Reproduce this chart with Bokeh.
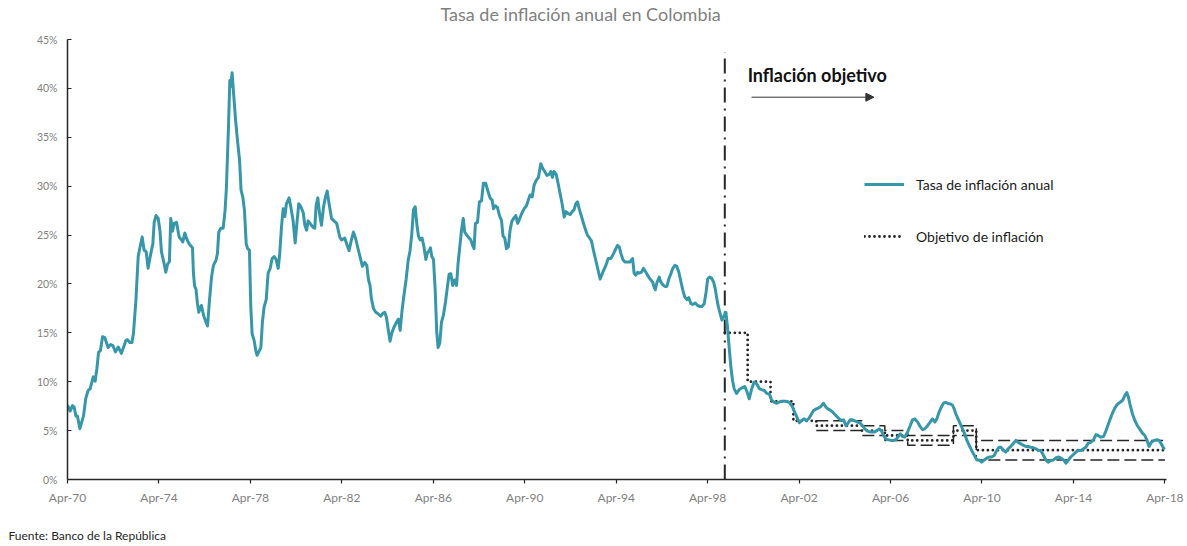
from bokeh.plotting import figure
from bokeh.models import (Range1d, FixedTicker, PrintfTickFormatter, Legend, LegendItem,
                          Arrow, NormalHead, Label, Title)
from bokeh.embed import file_html
from bokeh.resources import INLINE

# ---------------- data ----------------
# months elapsed since April 1970, and annual inflation (%)
months = [
    0, 1.4, 2.6, 3.5, 4.4, 5.2, 6.5, 8.4, 9.6, 10.8, 11.9, 13.5, 14.5, 15.4, 16.3, 17.3, 18.4, 19.6,
    21.3, 22.7, 23.8, 25.2, 26.6, 28.3, 30.6, 31.5, 32.7, 33.8, 34.6, 35.9, 37.1, 38.1, 39.2, 40.2,
    41.3, 42.3, 43.7, 44.8, 45.5, 46.5, 47.6, 48.5, 49.3, 50.7, 51.6, 52.5, 53.5, 54.2, 55.1, 56.0,
    57.2, 58.6, 59.8, 60.5, 61.6, 62.6, 63.8, 65.6, 66.1, 66.7, 67.5, 68.2, 68.9, 69.6, 70.3, 71.4,
    72.3, 73.5, 74.5, 75.6, 76.6, 77.9, 78.7, 79.4, 80.5, 81.7, 82.7, 83.4, 84.5, 85.2, 85.7, 86.4,
    87.1, 88.2, 89.2, 90.3, 91.1, 92.0, 92.9, 93.8, 94.6, 95.5, 96.2, 96.9, 98.0, 98.8, 99.5, 100.4,
    101.5, 102.3, 103.2, 104.3, 105.3, 106.4, 107.4, 108.5, 109.5, 110.6, 111.4, 112.3, 113.2, 114.1,
    114.9, 116.3, 117.2, 118.4, 119.5, 120.4, 121.4, 122.5, 123.7, 124.6, 125.5, 126.3, 127.7, 128.8,
    129.8, 130.5, 131.4, 132.3, 133.3, 134.4, 135.4, 136.3, 137.3, 138.6,
    139.6, 141.3, 142.9, 143.8, 145.5, 146.6, 147.8, 149.0, 150.1, 151.3, 152.5, 153.6, 154.8, 156.0,
    157.1, 158.0, 158.8, 159.5, 160.6, 161.8, 163.0, 164.4, 165.3, 166.5, 167.4, 168.3, 169.3, 170.2,
    171.4, 172.7, 173.7, 174.6, 175.6, 176.7, 177.7, 178.8, 179.8, 180.7, 181.6, 182.5, 183.3, 184.2,
    185.1, 186.1, 187.0, 188.1, 188.9, 189.8, 190.5, 191.2, 192.1, 193.0, 193.8, 194.5, 195.4, 196.3,
    197.3, 198.4, 199.4, 200.3, 201.2, 202.2, 203.1, 204.2, 205.0, 205.9, 206.8, 207.7, 208.5, 209.6,
    210.8, 211.7, 212.6, 213.4, 214.1, 215.2, 216.2, 217.3, 218.3, 219.5, 220.8, 221.8, 222.9, 223.6,
    224.6, 225.7, 226.7, 227.8, 228.6, 229.5, 230.4, 231.4, 232.3, 233.2, 234.2, 235.3, 236.3, 237.4,
    238.4, 239.7, 240.9, 241.9, 242.8, 243.9, 244.9, 246.0, 247.2, 248.4, 249.5, 250.5, 251.6, 252.8,
    253.7, 254.5, 255.4, 256.5, 257.5, 258.6, 259.6, 260.7, 261.7, 262.8, 263.8, 264.9, 265.9, 266.8,
    267.7, 268.7, 269.8, 270.8, 271.9, 272.9, 274.0, 275.0, 276.1, 277.3, 278.5, 279.6,
    281.4, 282.6, 283.8, 285.2, 286.6, 287.8, 288.7, 289.6, 290.5, 291.5, 292.5, 293.9, 295.3, 296.6,
    297.4, 298.3, 299.2, 300.1, 301.3, 302.3, 303.6, 304.4, 305.8, 307.1, 307.9, 308.5, 309.3, 310.6,
    311.4, 312.5, 313.5, 314.6, 315.6, 316.7, 317.7, 318.8, 319.8, 320.9, 322.0, 323.0, 324.0, 325.1,
    326.1, 327.2, 328.2, 329.5, 330.7, 331.7, 333.0, 334.2, 335.2, 336.0, 337.0, 338.0, 339.1, 340.0,
    340.8, 341.7, 342.6, 343.5,
    344.3, 345.6, 346.4, 347.3, 348.2, 349.1, 349.9, 351.2, 352.6, 354.3, 355.5, 356.6, 357.8, 359.0,
    360.4, 361.7, 363.1, 364.3, 365.7, 367.1, 368.5, 369.5, 370.9, 372.3, 374.4, 377.1, 378.8, 380.6,
    381.8, 382.8, 384.1, 385.3, 386.7, 387.9, 389.3, 390.5, 391.6, 392.8, 394.0, 395.4, 396.8, 398.1,
    399.3, 400.3, 401.6, 402.8, 403.8, 405.1, 406.3, 407.3, 408.6, 409.8, 410.8, 412.1, 413.3, 414.7,
    416.1, 417.3, 418.5, 419.9, 421.7, 423.4, 424.8, 426.0, 427.3, 428.3, 429.5, 430.8, 432.2, 433.6,
    434.8, 436.0, 437.1, 438.3, 439.5, 440.9, 442.3, 443.5, 444.8, 446.2, 447.6, 448.8, 450.0, 451.4,
    452.8, 454.0, 455.3, 456.3, 457.5, 458.8, 459.8, 461.0, 462.3, 463.3, 464.5, 465.4, 466.3, 467.2,
    468.6, 469.8, 471.0, 472.1, 473.3, 474.5, 475.9, 477.3, 478.5, 479.8, 481.2, 482.6, 483.8, 485.0,
    486.4, 487.8, 489.0, 489.9, 491.3, 492.5, 493.7, 495.1, 496.5, 497.8, 499.0, 500.4, 501.8, 503.0,
    504.2, 505.6, 507.0, 508.3, 509.5, 510.9, 512.3, 513.5, 514.7, 516.1, 517.5, 518.8, 520.0, 521.4,
    522.8, 524.0, 525.2, 526.6, 528.0, 529.3, 530.5, 531.9, 533.3, 534.5, 535.7, 537.1, 538.5, 539.8,
    541.0, 542.4, 543.8, 545.0, 546.2, 547.3, 548.5, 549.7, 551.1, 552.5, 553.8, 555.0, 556.0, 556.9,
    557.8, 559.0, 560.2, 561.6, 563.0, 564.2, 565.5, 566.5, 567.7, 568.9, 570.4, 571.8, 573.0, 574.2,
    575.3, 576.0,
]
inflation = [
    7.6, 7.0, 7.56, 7.4, 6.5, 6.5, 5.2, 6.5, 8.3, 9.1, 9.3, 10.5, 10.05, 11.3, 13.0, 13.2, 14.6, 14.5,
    13.5, 13.8, 13.7, 13.05, 13.55, 12.9, 14.2, 14.3, 14.0, 14.0, 14.9, 18.3, 22.8, 23.8, 24.8, 23.45,
    23.3, 21.6, 23.1, 24.1, 26.3, 27.0, 26.7, 25.5, 23.3, 22.1, 21.2, 22.0, 22.3, 26.7, 25.4, 26.2,
    26.3, 24.8, 24.5, 24.3, 25.2, 24.6, 24.1, 23.7, 21.1, 19.8, 19.4, 18.0, 17.1, 17.5, 17.8, 16.8,
    16.3, 15.7, 18.3, 20.7, 21.9, 22.4, 23.1, 25.3, 25.7, 25.7, 27.5, 29.8, 36.1, 40.8, 40.2, 41.6,
    39.7, 36.8, 34.7, 32.7, 29.6, 28.9, 27.5, 24.1, 23.6, 23.45, 17.65, 14.9, 14.2, 13.2, 12.7, 13.05,
    13.5, 16.1, 17.65, 18.4, 21.1, 21.6, 22.6, 22.8, 22.5, 21.6, 23.1, 25.8, 27.7, 26.9,
    28.2, 28.8, 27.9, 26.5, 24.2, 26.2, 28.2, 27.9, 27.3, 26.0, 25.5, 26.45, 26.1, 25.8,
    25.7, 28.05, 28.8, 27.2, 26.0, 27.9, 28.9, 29.5, 28.2, 26.7,
    26.5, 26.2, 24.8, 24.5, 24.7, 24.05, 23.4, 24.5, 25.3, 24.6, 23.6, 22.75, 21.8, 22.2,
    21.9, 20.4, 19.85, 18.5, 17.5, 17.1, 16.95, 16.7, 16.95, 17.1, 16.6, 15.4, 14.15, 14.97,
    15.6, 16.1, 16.4, 15.25, 17.3, 19.0, 20.4, 22.4, 23.4, 25.1, 27.6, 27.9, 26.2, 24.9,
    24.5, 24.7, 23.9, 22.5, 23.2, 23.4, 23.7, 22.8, 22.5, 19.35, 15.1, 13.5, 13.95, 16.1,
    16.8, 18.15, 19.7, 21.0, 21.05, 19.85, 20.4, 19.85, 22.1, 23.8, 25.5, 26.7, 25.3, 25.0,
    24.7, 24.5, 23.95, 23.6, 26.2, 26.3, 28.4, 28.5, 30.3, 30.3, 29.4, 28.8, 28.55, 27.7,
    28.0, 27.8, 27.0, 26.5, 24.9, 24.7, 23.6, 23.8, 25.5, 26.4, 26.7, 27.0, 26.2, 26.7,
    27.2, 27.7, 28.0, 28.6, 29.1, 28.9, 30.1, 30.6, 30.9, 32.3, 31.8, 31.5, 31.1, 31.2,
    31.5, 30.9, 31.5, 31.2, 30.3, 29.2, 28.2, 26.85, 27.4, 27.2, 27.1, 27.4, 27.6, 28.2,
    28.4, 27.6, 26.9, 26.2, 25.55, 25.0, 24.7, 24.4, 23.4, 22.4, 21.4, 20.5,
    21.4, 21.9, 22.6, 22.6, 23.1, 23.6, 23.95, 23.8, 23.1, 22.5, 22.25, 22.25, 22.25, 22.6,
    21.1, 20.9, 21.2, 21.1, 21.2, 21.6, 21.2, 20.9, 20.5, 20.2, 19.7, 19.4, 20.1, 20.7,
    20.2, 19.9, 19.75, 19.75, 20.5, 21.05, 21.6, 21.9, 21.8, 21.2, 20.2, 19.35, 18.66, 18.4,
    18.6, 17.98, 17.9, 18.05, 17.8, 17.7, 17.7, 17.98, 19.2, 20.5, 20.7, 20.6, 20.2, 19.5,
    18.5, 17.6, 16.95, 16.3,
    16.6, 17.1, 15.6, 13.5, 11.5, 10.1, 9.3, 8.8, 9.2, 9.4, 9.5, 9.0, 8.25, 9.2,
    9.96, 9.8, 9.3, 9.2, 9.1, 8.8, 8.7, 8.15, 7.9, 7.8, 8.0, 8.0, 7.9, 7.4,
    6.8, 6.4, 5.8, 6.04, 6.2, 6.0, 6.3, 6.7, 7.06, 7.2, 7.3, 7.47, 7.8, 7.4,
    7.2, 7.1, 6.9, 6.65, 6.45, 6.2, 6.04, 6.1, 5.5, 5.8, 6.1, 6.1, 6.0, 5.87,
    5.76, 5.5, 5.18, 4.95, 4.85, 4.85, 5.0, 5.18, 4.95, 4.5, 4.16, 4.06, 4.0, 4.0,
    4.06, 4.4, 4.67, 4.4, 4.33, 4.85, 5.5, 6.1, 6.2, 5.87, 5.4, 5.1, 5.18, 5.5,
    5.87, 6.2, 5.87, 6.2, 6.9, 7.47, 7.8, 7.9, 7.75, 7.75, 7.6, 7.23, 6.7, 6.3,
    5.7, 5.18, 4.6, 4.0, 3.5, 3.0, 2.5, 2.0, 2.0, 1.77, 2.0, 2.2, 2.3, 2.3,
    2.45, 3.0, 3.3, 3.3, 3.0, 2.8, 3.14, 3.38, 3.7, 4.0, 3.8, 3.65, 3.48, 3.38,
    3.38, 3.3, 3.24, 3.14, 3.0, 2.97, 2.45, 2.0, 1.77, 1.95, 2.0, 2.2, 2.3, 2.2,
    2.0, 1.67, 1.95, 2.3, 2.56, 2.8, 2.97, 2.97, 3.14, 3.3, 3.7, 3.8, 4.06, 4.6,
    4.5, 4.33, 4.4, 4.95, 5.6, 6.2, 6.8, 7.3, 7.7, 7.9, 8.1, 8.6, 8.9, 8.4,
    7.57, 6.7, 6.04, 5.5, 5.1, 4.74, 4.5, 4.06, 3.38, 3.8, 4.0, 4.06, 4.0, 3.6,
    3.2, 3.1,
]

# Inflation target (Banco de la República), by calendar year
target_years = [1999, 2000, 2001, 2002, 2003, 2004, 2005, 2006, 2007, 2008, 2009,
                2010, 2011, 2012, 2013, 2014, 2015, 2016, 2017, 2018]
target = [15, 10, 8, 6, 5.5, 5.5, 5, 4.5, 4, 4, 5, 3, 3, 3, 3, 3, 3, 3, 3, 3]
band_years = [2003, 2004, 2005, 2006, 2007, 2008, 2009, 2010, 2011, 2012, 2013, 2014,
              2015, 2016, 2017, 2018]
band_low = [5, 5, 4.5, 4, 3.5, 3.5, 4.5, 2, 2, 2, 2, 2, 2, 2, 2, 2]
band_high = [6, 6, 5.5, 5, 4.5, 4.5, 5.5, 4, 4, 4, 4, 4, 4, 4, 4, 4]

x_tick_years = [1970.25, 1974.25, 1978.25, 1982.25, 1986.25, 1990.25, 1994.25, 1998.25,
                2002.25, 2006.25, 2010.25, 2014.25, 2018.25]
x_tick_labels = ["Apr-70", "Apr-74", "Apr-78", "Apr-82", "Apr-86", "Apr-90", "Apr-94",
                 "Apr-98", "Apr-02", "Apr-06", "Apr-10", "Apr-14", "Apr-18"]
y_ticks = [0, 5, 10, 15, 20, 25, 30, 35, 40, 45]

START = 1970.25
END = 2018.25
TEAL = "#3797A9"
DARK = "#262626"
FONT = "Lato"

x_infl = [START + m / 12.0 for m in months]

p = figure(width=1187, height=546, output_backend="svg", toolbar_location=None,
           x_range=Range1d(START, 2018.32), y_range=Range1d(0, 45),
           min_border_left=67, min_border_right=21, min_border_top=39, min_border_bottom=67)
p.grid.visible = False
p.outline_line_color = None
p.background_fill_color = "white"
p.border_fill_color = "white"

# title (a blank spacer sits between the frame and the title)
p.add_layout(Title(text=" ", text_color="white", text_font_size="2px", standoff=10.6), "above")
p.add_layout(Title(text="Tasa de inflación anual en Colombia", align="left", offset=373,
                   standoff=0, vertical_align="bottom",
                   text_font=FONT, text_font_size="18px", text_font_style="normal",
                   text_color="#7f7f7f"), "above")

# target bands (dashed) and target (dotted)
bx = band_years + [END]
p.step(bx, band_high + [band_high[-1]], mode="after", line_color=DARK, line_width=1.5,
       line_dash="12 5")
p.step(bx, band_low + [band_low[-1]], mode="after", line_color=DARK, line_width=1.5,
       line_dash="12 5")
tx = target_years + [END]
target_r = p.step(tx, target + [target[-1]], mode="after", line_color=DARK, line_width=2.8,
                  line_dash="0 5", line_cap="round")

# start of inflation targeting
p.line([target_years[0], target_years[0]], [0, 43.7], line_color=DARK, line_width=2,
       line_dash="15 6 2 6")

infl_r = p.line(x_infl, inflation, line_color=TEAL, line_width=3, line_join="round")

# annotation
p.add_layout(Label(x=2000.0, y=41.35, text="Inflación objetivo", text_font=FONT,
                   text_font_style="bold", text_font_size="18px", text_color="#111111",
                   text_baseline="middle", text_align="left"))
p.add_layout(Arrow(end=NormalHead(size=8, fill_color="#333333", line_color="#333333"),
                   x_start=2000.17, y_start=39.1, x_end=2005.52, y_end=39.1,
                   line_color="#333333", line_width=1))

legend = Legend(items=[LegendItem(label="Tasa de inflación anual", renderers=[infl_r]),
                       LegendItem(label="Objetivo de inflación", renderers=[target_r])],
                location=(797, 233), orientation="vertical", border_line_color=None,
                background_fill_alpha=0, label_text_font=FONT, label_text_font_size="14px",
                label_text_color="#1a1a1a", glyph_width=40, glyph_height=20, label_height=20,
                spacing=32, padding=0, margin=0, label_standoff=12)
p.add_layout(legend)

# axes
p.xaxis.ticker = FixedTicker(ticks=x_tick_years)
p.xaxis.major_label_overrides = dict(zip(x_tick_years, x_tick_labels))
p.yaxis.ticker = FixedTicker(ticks=y_ticks)
p.yaxis.formatter = PrintfTickFormatter(format="%d%%")
for ax in (p.xaxis[0], p.yaxis[0]):
    ax.axis_line_color = DARK
    ax.axis_line_width = 1.5
    ax.major_tick_line_color = DARK
    ax.major_tick_line_width = 1.2
    ax.minor_tick_line_color = None
    ax.major_label_text_color = "#808080"
    ax.major_label_text_font = FONT
p.xaxis.major_tick_in = 0
p.xaxis.major_tick_out = 4
p.xaxis.major_label_standoff = 6
p.xaxis.major_label_text_font_size = "12px"
p.yaxis.major_tick_in = 4
p.yaxis.major_tick_out = 0
p.yaxis.major_label_standoff = 10
p.yaxis.major_label_text_font_size = "10.5px"

# source note (a blank spacer sits between the axis and the note)
p.add_layout(Title(text=" ", text_color="white", text_font_size="2px", standoff=13.6), "below")
p.add_layout(Title(text="Fuente: Banco de la República", align="left", offset=-59,
                   standoff=0, vertical_align="bottom",
                   text_font=FONT, text_font_size="12px", text_font_style="normal",
                   text_color="#262626"), "below")

open("out.html", "w").write(file_html(p, INLINE))
